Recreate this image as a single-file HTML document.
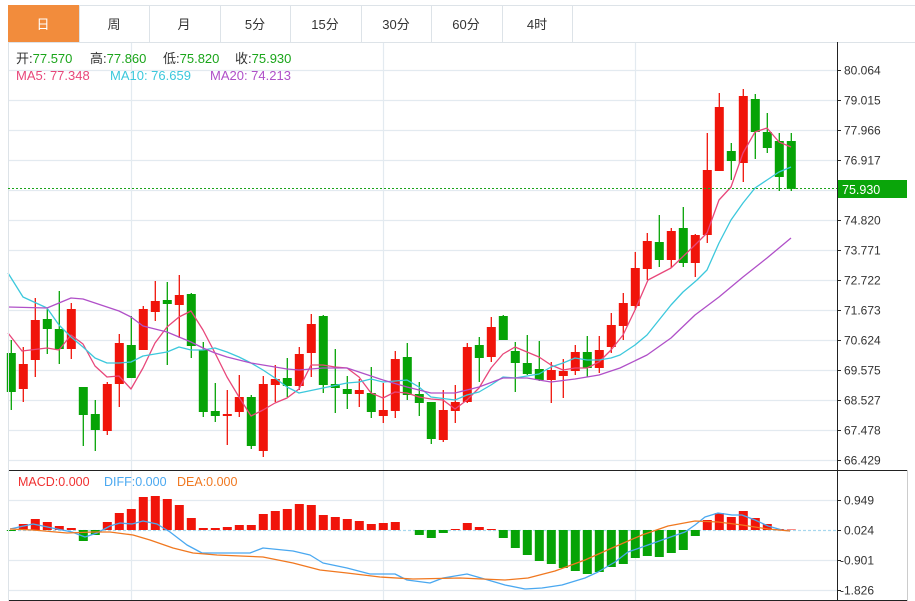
<!DOCTYPE html>
<html><head><meta charset="utf-8">
<style>
body{margin:0;background:#fff;width:915px;height:601px;overflow:hidden;font-family:"Liberation Sans","Noto Sans CJK SC",sans-serif;}
svg{position:absolute;left:0;top:0}
</style></head><body>
<svg id="s" width="915" height="601" xmlns="http://www.w3.org/2000/svg" font-family="Liberation Sans, Noto Sans CJK SC, sans-serif">
<g id="grid" stroke="#e3eaf0" stroke-width="1.2"></g>
<g stroke="#dde3e8" fill="#fff">
<rect x="8.5" y="5.5" width="564" height="37"/>
</g>
<line x1="572" y1="5.5" x2="915" y2="5.5" stroke="#dde3e8"/>
<line x1="572" y1="42.5" x2="915" y2="42.5" stroke="#dde3e8"/>
<rect x="8" y="5" width="71" height="37" fill="#f28c3c"/>
<g stroke="#dde3e8"><line x1="79.5" y1="5" x2="79.5" y2="42"/><line x1="149.5" y1="5" x2="149.5" y2="42"/><line x1="220.5" y1="5" x2="220.5" y2="42"/><line x1="290.5" y1="5" x2="290.5" y2="42"/><line x1="361.5" y1="5" x2="361.5" y2="42"/><line x1="431.5" y1="5" x2="431.5" y2="42"/><line x1="502.5" y1="5" x2="502.5" y2="42"/></g>
<g font-size="13" text-anchor="middle" fill="#333">
<text x="43" y="29" fill="#fff">日</text><text x="114" y="29">周</text><text x="184" y="29">月</text><text x="255" y="29">5分</text><text x="325" y="29">15分</text><text x="396" y="29">30分</text><text x="466" y="29">60分</text><text x="537" y="29">4时</text>
</g>
<g font-size="13">
<text x="16" y="63" fill="#333">开:<tspan fill="#1aa51a">77.570</tspan></text>
<text x="90" y="63" fill="#333">高:<tspan fill="#1aa51a">77.860</tspan></text>
<text x="163" y="63" fill="#333">低:<tspan fill="#1aa51a">75.820</tspan></text>
<text x="235" y="63" fill="#333">收:<tspan fill="#1aa51a">75.930</tspan></text>
<text x="16" y="80" fill="#e8477a">MA5: 77.348</text>
<text x="110" y="80" fill="#3cc8dc">MA10: 76.659</text>
<text x="210" y="80" fill="#b050c8">MA20: 74.213</text>
<text x="18" y="486" fill="#f03030" font-size="12.5">MACD:0.000</text>
<text x="104" y="486" fill="#4aa8f0" font-size="12.5">DIFF:0.000</text>
<text x="177" y="486" fill="#f07820" font-size="12.5">DEA:0.000</text>
</g>
<g id="plot"></g>
<line x1="837.5" y1="42" x2="837.5" y2="601" stroke="#222"/>
<line x1="907.5" y1="470" x2="907.5" y2="601" stroke="#ccc"/>
<line x1="8" y1="470.5" x2="907" y2="470.5" stroke="#222"/>
<line x1="8" y1="600.5" x2="907" y2="600.5" stroke="#222"/>
<line x1="8.5" y1="42" x2="8.5" y2="601" stroke="#dde3e8"/>
<line x1="8" y1="188.5" x2="837" y2="188.5" stroke="#1aa51a" stroke-dasharray="2,2"/>
<rect x="838" y="180" width="69" height="18" fill="#0aa50a"/>
<text x="842" y="194" font-size="12.5" fill="#fff">75.930</text>
<g id="axis" font-size="12" fill="#333"></g>
</svg>
<script>
var NS="http://www.w3.org/2000/svg";
function el(p,t,a){var e=document.createElementNS(NS,t);for(var k in a)e.setAttribute(k,a[k]);p.appendChild(e);return e;}
var grid=document.getElementById('grid'),plot=document.getElementById('plot'),axis=document.getElementById('axis');
var pl=[["80.064",70],["79.015",100],["77.966",130],["76.917",160],["74.820",220],["73.771",250],["72.722",280],["71.673",310],["70.624",340],["69.575",370],["68.527",400],["67.478",430],["66.429",460]];
pl.forEach(function(p){el(grid,'line',{x1:8,x2:837,y1:p[1]+.5,y2:p[1]+.5});el(axis,'line',{x1:837,x2:841,y1:p[1]+.5,y2:p[1]+.5,stroke:'#222'});var t=el(axis,'text',{x:844,y:p[1]+4.5});t.textContent=p[0];});
el(grid,'line',{x1:8,x2:837,y1:190.5,y2:190.5});
[["0.949",500],["0.024",530],["-0.901",560],["-1.826",590]].forEach(function(p){if(p[1]!=530)el(grid,'line',{x1:8,x2:837,y1:p[1]+.5,y2:p[1]+.5});el(axis,'line',{x1:837,x2:841,y1:p[1]+.5,y2:p[1]+.5,stroke:'#222'});var t=el(axis,'text',{x:p[0][0]=='-'?840:844,y:p[1]+4.5});t.textContent=p[0];});
[131.5,383.5,635.5].forEach(function(x){el(grid,'line',{x1:x,x2:x,y1:42,y2:600});});
el(grid,'line',{x1:8,x2:837,y1:530.5,y2:530.5,stroke:'#a8d8ee','stroke-dasharray':'3,2'});
var R="#f0140a",G="#06a306";
var C=[[G,353,392,340,410],[R,364,389,347,402],[R,320,360,298,377],[G,319,329,309,354],[G,329,349,291,364],[R,309,349,303,359],[G,387,415,387,446],[G,414,430,400,451],[R,384,431,382,435],[R,343,384,334,407],[G,345,378,316,378],[R,309,350,306,350],[R,301,312,281,321],[G,300,304,282,365],[R,295,305,275,338],[G,294,346,293,358],[G,350,412,342,417],[G,411,416,383,422],[R,414,416,390,445],[R,397,412,375,417],[G,397,446,395,449],[R,384,451,376,457],[R,379,385,365,402],[G,378,386,358,397],[R,354,386,347,390],[R,324,353,314,377],[G,316,385,315,393],[G,384,388,349,413],[G,389,394,376,409],[R,390,394,379,407],[G,393,412,367,418],[R,410,416,383,423],[R,359,411,351,418],[G,357,395,343,400],[G,394,403,382,416],[G,402,439,402,444],[R,410,440,390,442],[R,402,411,385,423],[R,347,402,343,403],[G,345,358,337,382],[R,327,357,317,362],[G,316,340,315,340],[G,351,363,342,392],[G,363,374,335,375],[G,369,380,341,381],[R,370,380,362,403],[R,371,376,359,398],[R,352,371,345,375],[G,352,368,336,377],[R,350,368,336,373],[R,325,347,313,353],[R,303,326,293,340],[R,268,306,252,310],[R,241,269,233,280],[G,242,260,215,267],[R,231,260,228,268],[G,228,263,207,267],[R,235,263,234,277],[R,170,235,133,243],[R,107,171,93,171],[G,151,161,143,180],[R,96,163,89,182],[G,99,132,94,159],[G,132,148,113,153],[G,141,177,133,191],[G,141,189,133,191]];
C.forEach(function(c,i){var x=11.3+12*i;el(plot,'line',{x1:x,x2:x,y1:c[3],y2:c[4],stroke:c[0],'stroke-width':1.3});el(plot,'rect',{x:x-4.5,y:c[1],width:9,height:Math.max(2,c[2]-c[1]),fill:c[0]});});
function line(pts,col){el(plot,'polyline',{points:pts,fill:'none',stroke:col,'stroke-width':1.3,'stroke-linejoin':'round'});}
line("8,333 22,351 47,348 59,350 71,335 83,344 95,366 107,377 119,376 131,389 143,368 155,343 167,327 179,317 191,311 203,330 215,353 227,377 239,397 251,416 263,410 275,403 287,398 299,389 311,365 323,365 335,367 347,368 359,377 371,393 383,398 395,392 407,393 419,397 431,399 443,400 455,409 467,400 479,388 491,368 503,354 515,347 527,352 539,357 551,365 563,370 575,368 587,368 599,362 611,350 623,335 635,310 648,280 671,268 695,245 707,233 719,200 731,187 743,153 755,132 767,128 779,142 791,147","#e8477a");
line("8,273 23,297 47,308 59,325 71,337 83,347 95,358 107,363 119,363 131,362 143,356 167,352 179,347 191,350 203,350 215,348 227,352 239,357 251,363 263,370 275,378 287,387 299,393 323,388 347,383 359,382 371,379 383,382 407,380 419,387 431,397 455,400 467,395 479,392 491,385 503,377 515,378 539,374 551,367 563,363 575,358 587,360 599,360 611,358 620,355 635,345 647,335 659,320 671,305 683,292 697,280 707,270 719,243 731,220 743,203 755,188 767,180 779,172 791,167","#3cc8dc");
line("8,307 47,308 71,298 83,299 95,303 107,307 119,311 131,317 143,326 155,329 167,332 179,337 191,342 203,348 215,353 227,357 239,360 251,363 263,365 275,367 287,369 299,370 323,368 347,368 359,372 383,380 407,387 431,393 455,393 479,387 503,378 527,378 551,382 575,379 599,375 620,368 647,355 671,338 695,315 719,297 743,277 767,258 791,238","#b050c8");
var M=[-1,6,11,8,4,2,-11,-5,8,17,21,33,34,31,25,12,2,2,3,5,5,16,19,21,26,25,15,13,11,9,6,7,8,0,-5,-8,-3,1,7,3,1,-8,-18,-25,-31,-34,-38,-41,-44,-42,-37,-34,-28,-26,-27,-23,-20,-6,10,17,13,19,12,6,1,0.5];
M.forEach(function(m,i){var x=11.3+12*i;if(Math.abs(m)<0.4)return;var c=m>0?R:G;el(plot,'rect',{x:x-4.5,y:m>0?530-m:530,width:9,height:Math.abs(m),fill:c});});
line("10,529 33,524 57,529 72,532 85,537 97,533 110,526 120,523 132,524 143,521 157,524 170,532 187,545 202,553 230,553 250,553 263,548 293,551 310,555 323,563 347,568 370,574 395,574 407,580 430,583 443,578 467,574 488,580 505,585 525,589 542,588 562,585 585,578 598,572 615,562 628,552 648,545 662,540 685,532 695,525 705,517 718,513 732,515 742,515 755,520 768,526 782,530 790,531","#4aa8f0");
line("10,529 33,530 67,533 93,532 110,532 133,535 150,540 173,548 193,553 217,555 263,557 293,563 320,570 347,573 380,577 413,579 460,578 505,580 528,578 555,571 585,560 612,548 642,535 668,526 695,521 718,522 742,525 768,529 790,531","#f07820");
</script>
</body></html>
